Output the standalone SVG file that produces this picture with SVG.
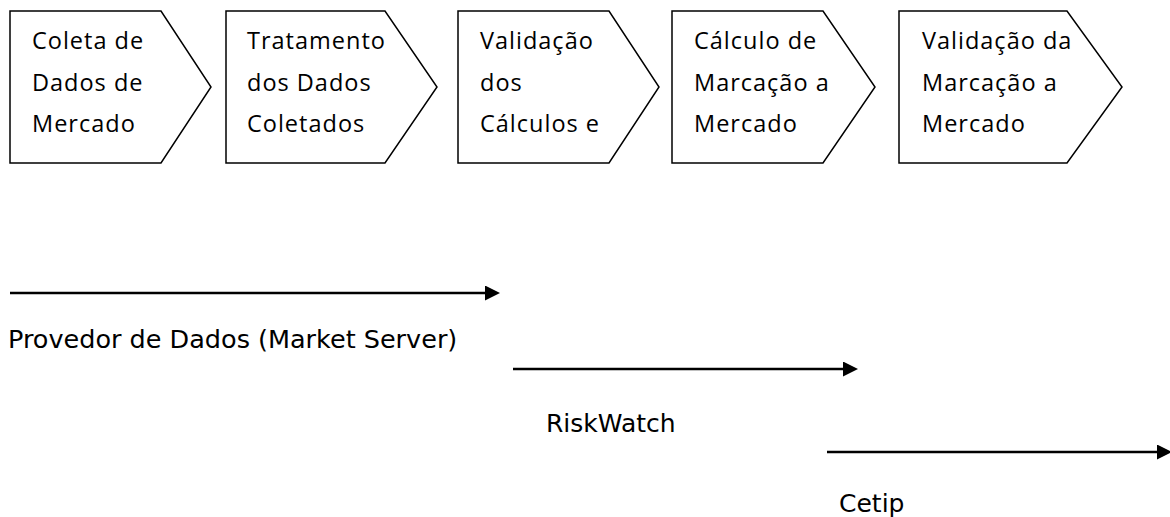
<svg xmlns="http://www.w3.org/2000/svg" width="1170" height="517" viewBox="0 0 1170 517">
<style>
.box{fill:#fff;stroke:#000;stroke-width:1.5}
.bt{font-family:"Open Sans","Liberation Sans",sans-serif;font-size:23.5px;letter-spacing:1px;fill:#000}
.lb{font-family:"DejaVu Sans","Liberation Sans",sans-serif;font-size:25px;fill:#000}
.ar{stroke:#000;stroke-width:2.5;fill:none}
</style>
<defs>
<marker id="ah" markerWidth="15" markerHeight="15" refX="5" refY="7.5" orient="auto" markerUnits="userSpaceOnUse">
<path d="M0,0 L15,7.5 L0,15 Z" fill="#000"/>
</marker>
</defs>
<rect width="1170" height="517" fill="#fff"/>
<g id="n1"><path class="box" d="M10,11 H161 L211,87 L161,163 H10 Z"/>
<text class="bt"><tspan x="32" y="49">Coleta de</tspan><tspan x="32" y="90.5">Dados de</tspan><tspan x="32" y="131.5">Mercado</tspan></text></g>
<g id="n2"><path class="box" d="M226,11 H385 L437,87 L385,163 H226 Z"/>
<text class="bt"><tspan x="247" y="49">Tratamento</tspan><tspan x="247" y="90.5">dos Dados</tspan><tspan x="247" y="131.5">Coletados</tspan></text></g>
<g id="n3"><path class="box" d="M458,11 H609 L659,87 L609,163 H458 Z"/>
<text class="bt"><tspan x="480" y="49">Validação</tspan><tspan x="480" y="90.5">dos</tspan><tspan x="480" y="131.5">Cálculos e</tspan></text></g>
<g id="n4"><path class="box" d="M672,11 H823 L875,87 L823,163 H672 Z"/>
<text class="bt"><tspan x="694" y="49">Cálculo de</tspan><tspan x="694" y="90.5">Marcação a</tspan><tspan x="694" y="131.5">Mercado</tspan></text></g>
<g id="n5"><path class="box" d="M899,11 H1067 L1122,87 L1067,163 H899 Z"/>
<text class="bt"><tspan x="922" y="49">Validação da</tspan><tspan x="922" y="90.5">Marcação a</tspan><tspan x="922" y="131.5">Mercado</tspan></text></g>
<g id="connectors">
<line class="ar" x1="10" y1="293" x2="490" y2="293" marker-end="url(#ah)"/>
<line class="ar" x1="513" y1="369" x2="848" y2="369" marker-end="url(#ah)"/>
<line class="ar" x1="827" y1="452" x2="1162" y2="452" marker-end="url(#ah)"/>
</g>
<g id="labels">
<text class="lb" x="8" y="348" style="font-size:25.5px">Provedor de Dados (Market Server)</text>
<text class="lb" x="546" y="432">RiskWatch</text>
<text class="lb" x="839" y="512">Cetip</text>
</g>
</svg>
